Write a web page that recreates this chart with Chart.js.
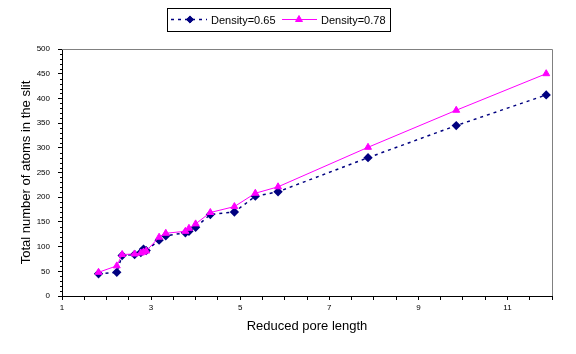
<!DOCTYPE html>
<html>
<head>
<meta charset="utf-8">
<script src="https://cdn.jsdelivr.net/npm/chart.js@4/dist/chart.umd.min.js"></script>
<style>
  html, body { margin: 0; padding: 0; background: #fff; }
  canvas { display: block; }
</style>
</head>
<body>
<canvas id="chart" width="576" height="354"></canvas>
<script>
// reduced pore length (shared by both series)
const poreLength = [1.82, 2.23, 2.35, 2.63, 2.77, 2.83, 2.89, 3.18, 3.33, 3.77, 3.85, 4.0, 4.33, 4.87, 5.34, 5.85, 7.87, 9.85, 11.87];
const density065 = [45, 48, 82, 84, 88, 95, 92, 113, 122, 128, 131, 139, 165, 170, 202, 211, 280, 345, 407];
const density078 = [48, 61, 84, 85, 87, 89, 91, 119, 127, 131, 137, 146, 169, 181, 208, 221, 301, 376, 450];
const seriesNames = ['Density=0.65', 'Density=0.78'];
const xLabels = [1, 3, 5, 7, 9, 11];

const FONT = "'Liberation Sans', Arial, sans-serif";
const NAVY = '#000080';
const MAGENTA = '#FF00FF';

const toPoints = (ys) => poreLength.map((x, i) => ({ x: x, y: ys[i] }));

// white background, gray top/right frame, minor y ticks and the boxed legend
const excelLook = {
    id: 'excelLook',
    beforeDraw(chart) {
        const ctx = chart.ctx;
        ctx.save();
        ctx.fillStyle = '#fff';
        ctx.fillRect(0, 0, chart.width, chart.height);
        ctx.restore();
    },
    afterDraw(chart) {
        const ctx = chart.ctx;
        const a = chart.chartArea;
        const y = chart.scales.y;
        ctx.save();

        // top and right frame
        ctx.strokeStyle = '#808080';
        ctx.lineWidth = 1;
        ctx.beginPath();
        ctx.moveTo(a.left, Math.round(a.top) + 0.5);
        ctx.lineTo(Math.round(a.right) + 0.5, Math.round(a.top) + 0.5);
        ctx.lineTo(Math.round(a.right) + 0.5, a.bottom);
        ctx.stroke();

        // minor ticks on the value axis
        ctx.strokeStyle = '#000';
        ctx.beginPath();
        for (let v = 10; v < 500; v += 10) {
            if (v % 50 === 0) continue;
            const py = Math.round(y.getPixelForValue(v)) + 0.5;
            ctx.moveTo(a.left - 2, py);
            ctx.lineTo(a.left, py);
        }
        ctx.stroke();

        // legend
        ctx.strokeStyle = '#000';
        ctx.strokeRect(167.5, 8.5, 223, 23);
        const ly = 19.5;
        const ds = chart.data.datasets;
        const items = [
            { x0: 171, x1: 207, mx: 190, tx: 211, d: ds[0] },
            { x0: 282, x1: 317, mx: 299, tx: 321, d: ds[1] }
        ];
        items.forEach((it, i) => {
            ctx.save();
            ctx.strokeStyle = it.d.borderColor;
            ctx.lineWidth = it.d.borderWidth;
            ctx.setLineDash(it.d.borderDash || []);
            ctx.beginPath();
            ctx.moveTo(it.x0, ly);
            ctx.lineTo(it.x1, ly);
            ctx.stroke();
            ctx.restore();
            ctx.fillStyle = it.d.pointBackgroundColor;
            ctx.strokeStyle = it.d.pointBorderColor;
            ctx.lineWidth = 1;
            Chart.helpers.drawPoint(ctx, {
                pointStyle: it.d.pointStyle,
                radius: it.d.pointRadius,
                rotation: 0,
                borderWidth: 1
            }, it.mx, ly);
            ctx.fillStyle = '#000';
            ctx.font = '11px ' + FONT;
            ctx.textBaseline = 'middle';
            ctx.textAlign = 'left';
            ctx.fillText(seriesNames[i], it.tx, ly + 1);
        });
        ctx.restore();
    }
};

const data = {
    datasets: [
        {
            label: seriesNames[0],
            data: toPoints(density065),
            showLine: true,
            borderColor: NAVY,
            borderWidth: 1.5,
            borderDash: [3, 4],
            pointStyle: 'rectRot',
            pointRadius: 3.6,
            pointBackgroundColor: NAVY,
            pointBorderColor: NAVY,
            order: 1
        },
        {
            label: seriesNames[1],
            data: toPoints(density078),
            showLine: true,
            borderColor: MAGENTA,
            borderWidth: 1,
            pointStyle: 'triangle',
            pointRadius: 4,
            pointBackgroundColor: MAGENTA,
            pointBorderColor: MAGENTA,
            order: 0
        }
    ]
};

const options = {
    responsive: false,
    animation: false,
    events: [],
    layout: { padding: { left: 0, top: 49, right: 24, bottom: 0 } },
    plugins: {
        legend: { display: false },
        tooltip: { enabled: false }
    },
    scales: {
        x: {
            type: 'linear',
            min: 1,
            max: 12,
            afterFit: (s) => { s.height = 58; },
            border: { color: '#000', width: 1 },
            grid: { drawOnChartArea: false, tickLength: 4, color: '#000' },
            ticks: {
                stepSize: 0.5,
                autoSkip: false,
                maxRotation: 0,
                padding: 3,
                color: '#000',
                font: { family: FONT, size: 8 },
                callback: (v) => (xLabels.includes(v) ? String(v) : '')
            },
            title: {
                display: true,
                text: 'Reduced pore length',
                color: '#000',
                font: { family: FONT, size: 13 },
                padding: { top: 0, bottom: 20 }
            }
        },
        y: {
            type: 'linear',
            min: 0,
            max: 500,
            afterFit: (s) => { s.width = 62; },
            border: { color: '#000', width: 1 },
            grid: { drawOnChartArea: false, tickLength: 4, color: '#000' },
            ticks: {
                stepSize: 50,
                autoSkip: false,
                padding: 8,
                color: '#000',
                font: { family: FONT, size: 8 }
            },
            title: {
                display: true,
                text: 'Total number of atoms in the slit',
                color: '#000',
                font: { family: FONT, size: 13 },
                padding: { top: 19, bottom: 0 }
            }
        }
    }
};

new Chart(document.getElementById('chart').getContext('2d'), {
    type: 'scatter',
    data: data,
    options: options,
    plugins: [excelLook]
});
</script>
</body>
</html>
